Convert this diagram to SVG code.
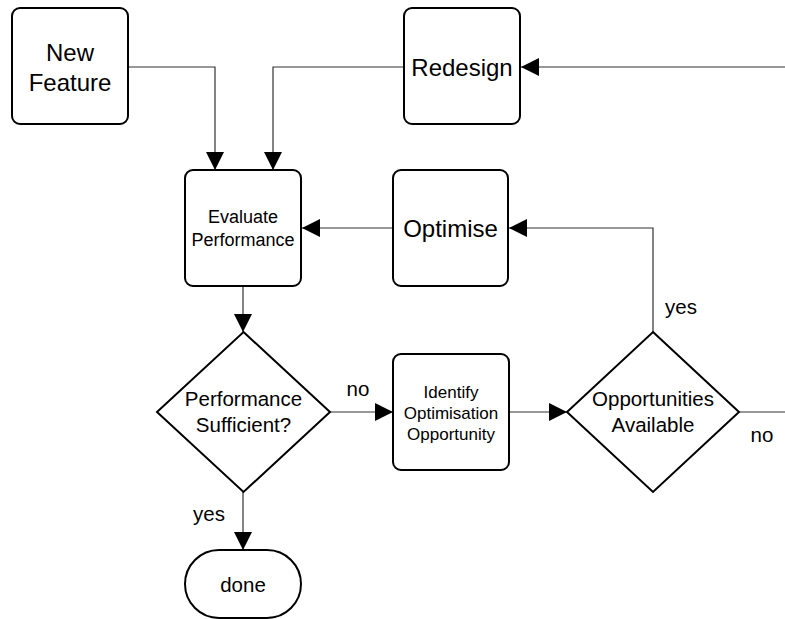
<svg xmlns="http://www.w3.org/2000/svg" width="785" height="619" viewBox="0 0 785 619">
<style>
.box{fill:#fff;stroke:#000;stroke-width:2}
.t{font-family:"Liberation Sans",Arial,sans-serif;fill:#000;text-anchor:middle}
.e{fill:none;stroke:#333;stroke-width:1.2}
.big{font-size:24px}
.mid{font-size:20.5px}
.sm{font-size:17px}
</style>
<defs>
<marker id="ah" markerUnits="userSpaceOnUse" markerWidth="20" markerHeight="18" refX="18" refY="9" orient="auto">
<path d="M0,0 L18,9 L0,18 Z" fill="#000"/>
</marker>
</defs>
<rect width="785" height="619" fill="#fff"/>
<g id="connectors">
<path class="e" d="M128,67 H215 V170" marker-end="url(#ah)"/>
<path class="e" d="M404,67 H273 V170" marker-end="url(#ah)"/>
<path class="e" d="M785,67 H521" marker-end="url(#ah)"/>
<path class="e" d="M393,228 H302" marker-end="url(#ah)"/>
<path class="e" d="M653,332 V228 H509" marker-end="url(#ah)"/>
<path class="e" d="M243,286 V332" marker-end="url(#ah)"/>
<path class="e" d="M330,412 H393" marker-end="url(#ah)"/>
<path class="e" d="M509,412 H567" marker-end="url(#ah)"/>
<path class="e" d="M739,412 H785"/>
<path class="e" d="M243,492 V550" marker-end="url(#ah)"/>
<text class="t mid" x="358" y="396">no</text>
<text class="t mid" x="209" y="521">yes</text>
<text class="t mid" x="681" y="314">yes</text>
<text class="t mid" x="762" y="442">no</text>
</g>
<g id="new-feature">
<rect class="box" x="12" y="8" width="116" height="116" rx="8"/>
<text class="t big" x="70" y="61">New</text>
<text class="t big" x="70" y="91">Feature</text>
</g>
<g id="redesign">
<rect class="box" x="404" y="8" width="116" height="116" rx="8"/>
<text class="t big" x="462" y="76">Redesign</text>
</g>
<g id="evaluate">
<rect class="box" x="185" y="170" width="116" height="116" rx="8"/>
<text class="t" x="243" y="223" font-size="18">Evaluate</text>
<text class="t" x="243" y="246" font-size="18">Performance</text>
</g>
<g id="optimise">
<rect class="box" x="393" y="170" width="115" height="116" rx="8"/>
<text class="t big" x="450.5" y="237">Optimise</text>
</g>
<g id="performance-sufficient">
<path class="box" d="M243.5,332 L330,412 L243.5,492 L157,412 Z"/>
<text class="t mid" x="243.5" y="406">Performance</text>
<text class="t mid" x="243.5" y="432">Sufficient?</text>
</g>
<g id="identify">
<rect class="box" x="393" y="354" width="116" height="116" rx="8"/>
<text class="t sm" x="451" y="398">Identify</text>
<text class="t sm" x="451" y="419">Optimisation</text>
<text class="t sm" x="451" y="440">Opportunity</text>
</g>
<g id="opportunities">
<path class="box" d="M653,332 L739,412 L653,492 L567,412 Z"/>
<text class="t mid" x="653" y="406">Opportunities</text>
<text class="t mid" x="653" y="432">Available</text>
</g>
<g id="done">
<rect class="box" x="185" y="550" width="116" height="68" rx="34"/>
<text class="t mid" x="243" y="592">done</text>
</g>
</svg>
